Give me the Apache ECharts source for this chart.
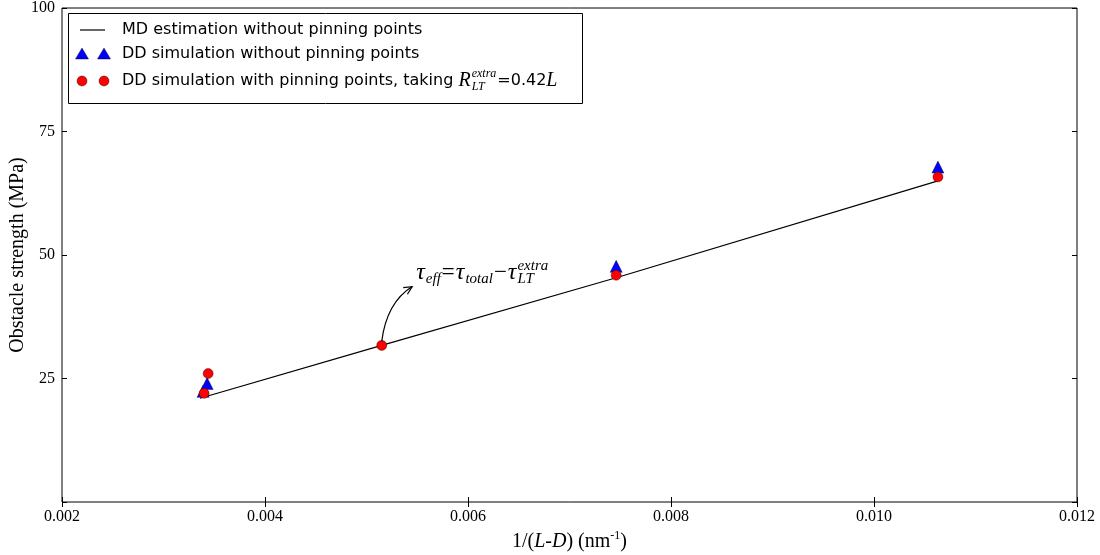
<!DOCTYPE html>
<html>
<head>
<meta charset="utf-8">
<script src="https://cdn.jsdelivr.net/npm/echarts@6/dist/echarts.min.js"></script>
<style>
  html, body { margin: 0; padding: 0; background: #fff; }
  #main { width: 1100px; height: 555px; }
</style>
</head>
<body>
<div id="main"></div>
<script>
// values: [1/(L-D) in nm^-1, strength in MPa]
var mdLine  = [[0.00336, 21.0], [0.00515, 31.7], [0.00746, 45.4], [0.01063, 65.0]];
var ddNoPin = [[0.00339, 22.4], [0.00343, 24.0], [0.00746, 47.7], [0.01063, 67.8]];
var ddPin   = [[0.00340, 22.0], [0.00344, 26.0], [0.00515, 31.7], [0.00746, 45.9], [0.01063, 65.8]];

var xTicks = [0.002, 0.012, 0.002];   // min, max, step
var yTicks = [0, 100, 25];

var seriesNames = ['MD estimation without pinning points',
                   'DD simulation without pinning points',
                   'DD simulation with pinning points'];

// annotation: the point it points at, where the arrow ends, where the text starts
var notePoint = [0.00515, 31.7];
var noteArrowEnd = [0.00545, 43.6];
var noteTextAt = [0.00549, 46.4];

var SERIF = 'Liberation Serif';
var SANS = 'DejaVu Sans';

var dom = document.getElementById('main');
var myChart = echarts.init(dom);
var option = null;

option = {
    animation: false,
    grid: {
        left: 62, right: 23, top: 8, bottom: 53,
        outerBoundsMode: 'none', containLabel: false,
        show: true, borderColor: '#000', borderWidth: 1, backgroundColor: '#fff'
    },
    xAxis: [
        {
            type: 'value', min: xTicks[0], max: xTicks[1], interval: xTicks[2],
            position: 'bottom',
            axisLine: { show: false },
            axisTick: { inside: true, length: 5, lineStyle: { color: '#000' } },
            splitLine: { show: false },
            axisLabel: {
                margin: 7, color: '#000', fontFamily: SERIF, fontSize: 16,
                formatter: function (v) { return v.toFixed(3); }
            },
            name: '{n|1/(}{i|L-D}{n|) (nm}{s|-1}{n|)}',
            nameLocation: 'middle', nameGap: 28, nameMoveOverlap: false,
            nameTextStyle: {
                rich: {
                    n: { fontFamily: SERIF, fontSize: 20, color: '#000', lineHeight: 24 },
                    i: { fontFamily: SERIF, fontSize: 20, fontStyle: 'italic', color: '#000', lineHeight: 24 },
                    s: { fontFamily: SERIF, fontSize: 12, color: '#000', lineHeight: 12, verticalAlign: 'top' }
                }
            }
        },
        {
            type: 'value', min: xTicks[0], max: xTicks[1], interval: xTicks[2],
            position: 'top',
            axisLine: { show: false },
            axisTick: { inside: true, length: 5, lineStyle: { color: '#000' } },
            splitLine: { show: false },
            axisLabel: { show: false }
        }
    ],
    yAxis: [
        {
            type: 'value', min: yTicks[0], max: yTicks[1], interval: yTicks[2],
            axisLine: { show: false },
            axisTick: { inside: true, length: 5, lineStyle: { color: '#000' } },
            splitLine: { show: false },
            axisLabel: {
                margin: 7, color: '#000', fontFamily: SERIF, fontSize: 16,
                formatter: function (v) { return v === 0 ? '' : String(v); }
            },
            name: 'Obstacle strength (MPa)',
            nameLocation: 'middle', nameGap: 34, nameMoveOverlap: false,
            nameTextStyle: { fontFamily: SERIF, fontSize: 20, color: '#000' }
        },
        {
            type: 'value', min: yTicks[0], max: yTicks[1], interval: yTicks[2],
            position: 'right',
            axisLine: { show: false },
            axisTick: { inside: true, length: 5, lineStyle: { color: '#000' } },
            splitLine: { show: false },
            axisLabel: { show: false }
        }
    ],
    series: [
        {
            name: seriesNames[0], type: 'line', data: mdLine,
            showSymbol: false, symbol: 'none',
            lineStyle: { color: '#000', width: 1.2 }, z: 2
        },
        {
            name: seriesNames[1], type: 'scatter', data: ddNoPin,
            symbol: 'triangle', symbolSize: [12, 12],
            itemStyle: { color: '#0000ff', borderColor: '#000', borderWidth: 0.4, opacity: 1 }, z: 3
        },
        {
            name: seriesNames[2], type: 'scatter', data: ddPin,
            symbol: 'circle', symbolSize: 10,
            itemStyle: { color: '#ff0000', borderColor: '#000', borderWidth: 0.4, opacity: 1 }, z: 4
        }
    ]
};

if (option && typeof option === 'object') {
    myChart.setOption(option, true);
}

// ---- text helpers for the mathtext bits (sub/superscripts) ----
var ctx = document.createElement('canvas').getContext('2d');
function measure(t, font) { ctx.font = font; return ctx.measureText(t).width; }
function txt(t, font, x, y) {
    return {
        type: 'text', z: 100, silent: true,
        style: { text: t, font: font, x: x, y: y, fill: '#000',
                 align: 'left', verticalAlign: 'middle',
                 textAlign: 'left', textVerticalAlign: 'middle' }
    };
}
// pieces: [text, font, dy, gapAfter]  or  {sup, sub, font, up, down}
function runs(x, y, pieces) {
    var out = [];
    pieces.forEach(function (p) {
        if (Array.isArray(p)) {
            out.push(txt(p[0], p[1], x, y + (p[2] || 0)));
            x += measure(p[0], p[1]) + (p[3] || 0);
        } else {
            out.push(txt(p.sup, p.font, x, y + p.up));
            out.push(txt(p.sub, p.font, x, y + p.down));
            x += Math.max(measure(p.sup, p.font), measure(p.sub, p.font)) + 1;
        }
    });
    return out;
}

function px(pt) { return myChart.convertToPixel({ xAxisIndex: 0, yAxisIndex: 0 }, pt); }

var gfx = [];

// legend box
var lx = 68, ly = 13;
gfx.push({ type: 'rect', z: 99, silent: true,
    shape: { x: lx + 0.5, y: ly + 0.5, width: 514, height: 90 },
    style: { fill: '#fff', stroke: '#000', lineWidth: 1 } });
gfx.push({ type: 'line', z: 100, silent: true,
    shape: { x1: 80, y1: 30, x2: 105, y2: 30 }, style: { stroke: '#000', lineWidth: 1.2 } });
[82, 104].forEach(function (cx) {
    gfx.push({ type: 'polygon', z: 100, silent: true,
        shape: { points: [[cx, 48], [cx - 6.5, 59], [cx + 6.5, 59]] },
        style: { fill: '#0000ff', stroke: '#000', lineWidth: 0.4 } });
    gfx.push({ type: 'circle', z: 100, silent: true,
        shape: { cx: cx, cy: 81, r: 5 },
        style: { fill: '#ff0000', stroke: '#000', lineWidth: 0.4 } });
});
var LF = '16px ' + SANS;
gfx = gfx.concat(runs(122, 30, [[seriesNames[0], LF, 0]]));
gfx = gfx.concat(runs(122, 54, [[seriesNames[1], LF, 0]]));
gfx = gfx.concat(runs(122, 81, [
    [seriesNames[2] + ', taking ', LF, 0],
    ['R', 'italic 20px ' + SERIF, 0, 1],
    { sup: 'extra', sub: 'LT', font: 'italic 12px ' + SERIF, up: -7, down: 6 },
    ['=0.42', LF, 0],
    ['L', 'italic 20px ' + SERIF, 0]
]));

// annotation with curved arrow
var p0 = px(notePoint), p1 = px(noteArrowEnd), pt = px(noteTextAt);
var a0 = [p0[0], p0[1] - 4];
var cp = [a0[0] + 5, p1[1] + 16];
gfx.push({ type: 'bezierCurve', z: 100, silent: true,
    shape: { x1: a0[0], y1: a0[1], x2: p1[0], y2: p1[1], cpx1: cp[0], cpy1: cp[1] },
    style: { stroke: '#000', lineWidth: 1.2, fill: 'none' } });
var ang = Math.atan2(p1[1] - cp[1], p1[0] - cp[0]);
var hl = 9, spread = 0.45;
gfx.push({ type: 'polyline', z: 100, silent: true,
    shape: { points: [
        [p1[0] - hl * Math.cos(ang - spread), p1[1] - hl * Math.sin(ang - spread)],
        [p1[0], p1[1]],
        [p1[0] - hl * Math.cos(ang + spread), p1[1] - hl * Math.sin(ang + spread)]
    ] },
    style: { stroke: '#000', lineWidth: 1.2, fill: 'none' } });

var MF = 'italic 24px ' + SERIF, SF = 'italic 15px ' + SERIF, OF = '23px ' + SERIF;
gfx = gfx.concat(runs(pt[0], pt[1], [
    ['τ', MF, 0, 1], ['eff', SF, 6, 1], ['=', OF, 0, 1],
    ['τ', MF, 0, 1], ['total', SF, 6, 1], ['−', OF, 0, 1],
    ['τ', MF, 0, 1],
    { sup: 'extra', sub: 'LT', font: SF, up: -7, down: 6 }
]));

myChart.setOption({ graphic: { elements: gfx } });
</script>
</body>
</html>
